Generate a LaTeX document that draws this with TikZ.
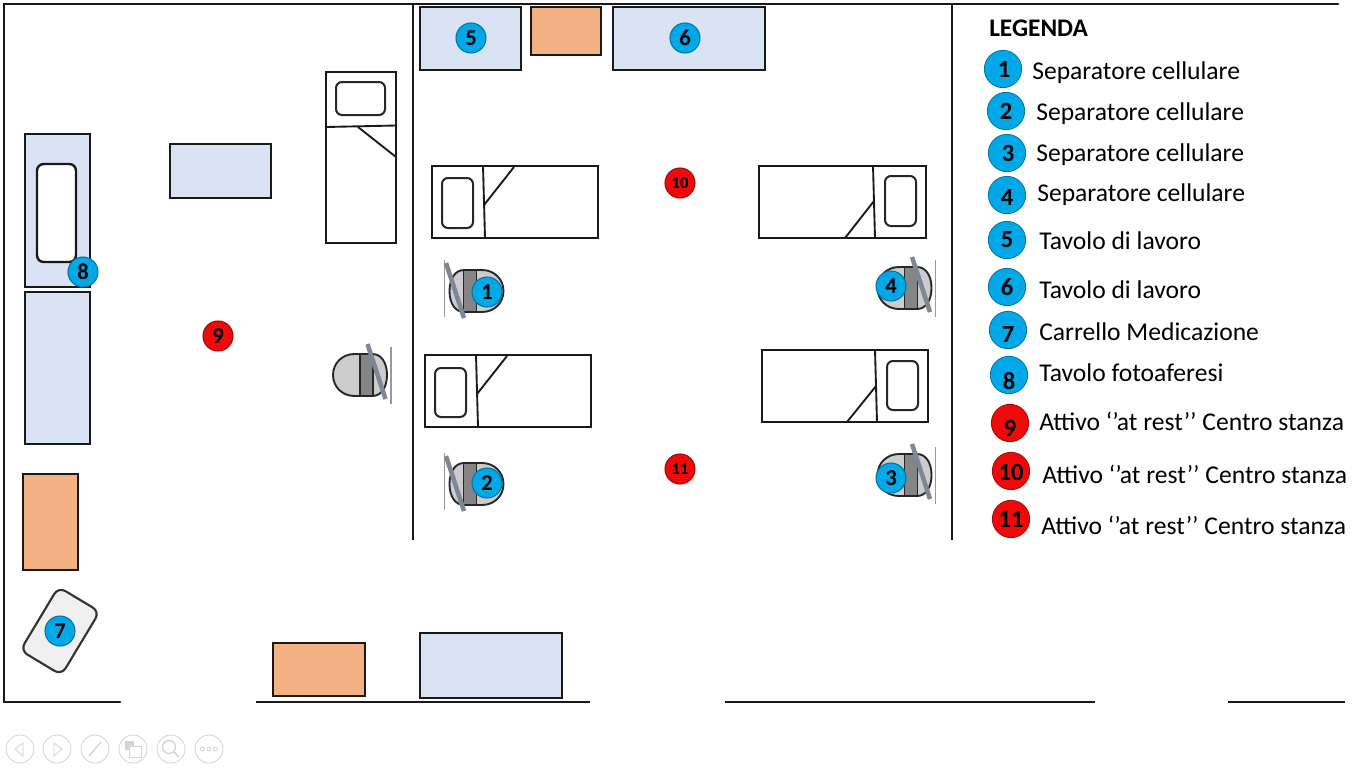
\documentclass[tikz,border=0pt]{standalone}
\usepackage{fontspec}
\setmainfont{Carlito}
\definecolor{tblue}{HTML}{DAE3F3}
\definecolor{torange}{HTML}{F4B183}
\definecolor{bblue}{HTML}{00A8E8}
\definecolor{bred}{HTML}{EE0A0A}
\definecolor{navgray}{HTML}{D4D4D4}
\definecolor{slashc}{HTML}{7F8797}
\tikzset{
  wall/.style={line width=2pt,black!90},
  furn/.style={draw=black!90,line width=1.8pt},
  bluebox/.style={furn,fill=tblue},
  orangebox/.style={furn,fill=torange},
  pillow/.style={draw=black!85,line width=1.5pt,rounded corners=4.5pt},
  badge/.style={circle,draw=#1!70!black,line width=.8pt,fill=#1,minimum size=22.5pt,inner sep=0pt,font=\fontsize{17}{17}\selectfont\bfseries},
  planblue/.style={badge=bblue},
  planred/.style={badge=bred},
  legbadge/.style={circle,draw=#1!70!black,line width=.6pt,fill=#1,minimum size=28pt,inner sep=0pt},
  legnum/.style={inner sep=0pt,font=\fontsize{18.5}{18.5}\selectfont\bfseries},
  legtext/.style={anchor=west,inner sep=0pt,font=\fontsize{19.2}{19.2}\selectfont},
  nav/.style={draw=navgray,line width=.6pt},
  chairR/.pic={
    \draw[draw=black!85,line width=1.4pt,fill=black!20] (-12,-21) .. controls (-24,-21) and (-33.5,-12) .. (-33.5,0) .. controls (-33.5,12) and (-24,21) .. (-12,21) -- (6,21) .. controls (15,21) and (20.5,12) .. (20.5,0) .. controls (20.5,-12) and (15,-21) .. (6,-21) -- cycle;
    \draw[draw=black!85,line width=1.4pt,fill=black!48] (-6.5,-21) rectangle (6.5,21);
    \draw[draw=black!40,line width=.8pt] (24.5,-28) -- (24.5,29);
    \draw[draw=slashc,line width=3.4pt] (1,-31) -- (19,24);
  },
  chairL/.pic={
    \draw[draw=black!85,line width=1.4pt,fill=black!20] (12,-21) .. controls (24,-21) and (33.5,-12) .. (33.5,0) .. controls (33.5,12) and (24,21) .. (12,21) -- (-6,21) .. controls (-15,21) and (-20.5,12) .. (-20.5,0) .. controls (-20.5,-12) and (-15,-21) .. (-6,-21) -- cycle;
    \draw[draw=black!85,line width=1.4pt,fill=black!48] (-6.5,-21) rectangle (6.5,21);
    \draw[draw=black!40,line width=.8pt] (-25.5,-31) -- (-25.5,26);
    \draw[draw=slashc,line width=3.4pt] (-24,-28) -- (-6,27);
  }
}
\begin{document}
\begin{tikzpicture}[x=0.75pt,y=-0.75pt]
\useasboundingbox (0,0) rectangle (1366,768);
\fill[white] (0,0) rectangle (1366,768);
% walls
\draw[wall,line cap=round,line join=miter] (1338,4) -- (4,4) -- (4,702) -- (120,702);
\draw[wall] (256,702) -- (590,702);
\draw[wall] (725,702) -- (1095,702);
\draw[wall] (1228,702) -- (1345,702);
\draw[wall,line width=1.5pt] (413,4) -- (413,540);
\draw[wall,line width=1.5pt] (952,4) -- (952,540);
% tables
\draw[bluebox] (420,7) rectangle (521,70);
\draw[orangebox] (531,7) rectangle (601,55);
\draw[bluebox] (613,7) rectangle (765,70);
\draw[bluebox] (25,134) rectangle (90,287);
\draw[furn,fill=white,rounded corners=5pt] (37,164) rectangle (76,262);
\draw[bluebox] (25,292) rectangle (90,444);
\draw[bluebox] (170,144) rectangle (271,198);
\draw[orangebox] (23,474) rectangle (78,570);
\draw[orangebox] (273,643) rectangle (365,696);
\draw[bluebox] (420,633) rectangle (562,698);
% cart
\draw[draw=black!80,line width=1.6pt,fill=black!6,rounded corners=6pt,rotate around={-31:(60,631)}] (36,594) rectangle (84,668);
% beds
\draw[furn] (326,72) rectangle (396,243);
\draw[pillow] (336,82) rectangle (385,115);
\draw[furn,line width=1.4pt] (326,127) -- (396,125.5);
\draw[furn,line width=1.4pt] (358,127) -- (396,157);
\draw[furn] (432,166) rectangle (598,238);
\draw[pillow] (442,178) rectangle (473,228);
\draw[furn,line width=1.4pt] (483,166) -- (485,238);
\draw[furn,line width=1.4pt] (484,205) -- (514,167);
\draw[furn] (425,355) rectangle (591,427);
\draw[pillow] (435,368) rectangle (466,417);
\draw[furn,line width=1.4pt] (476,355) -- (478,427);
\draw[furn,line width=1.4pt] (477,394) -- (507,356);
\draw[furn] (759,166) rectangle (926,238);
\draw[pillow] (885,176) rectangle (916,226);
\draw[furn,line width=1.4pt] (873,166) -- (875,238);
\draw[furn,line width=1.4pt] (874,201) -- (845,238);
\draw[furn] (762,350) rectangle (928,422);
\draw[pillow] (887,361) rectangle (918,410);
\draw[furn,line width=1.4pt] (875,350) -- (877,422);
\draw[furn,line width=1.4pt] (876,386) -- (847,422);
% chairs
\pic at (366.5,375) {chairR};
\pic at (911,288) {chairR};
\pic at (911,475) {chairR};
\pic at (470,291) {chairL};
\pic at (470,484) {chairL};
% plan badges
\node[planblue] (p1) at (487,292) {1};
\node[planblue] (p2) at (487,483) {2};
\node[planblue] (p3) at (891,478) {3};
\node[planblue] (p4) at (891,286) {4};
\node[planblue] (p5) at (471,38) {5};
\node[planblue] (p6) at (685,38) {6};
\node[planblue] (p7) at (60,631) {7};
\node[planblue] (p8) at (83,272) {8};
\node[planred] (p9) at (218,336) {9};
\node[planred,font=\fontsize{12.5}{12.5}\selectfont\bfseries] (p10) at (680,183) {10};
\node[planred,font=\fontsize{12.5}{12.5}\selectfont\bfseries] (p11) at (680,469) {11};
% legend
\node[inner sep=0pt,anchor=west,font=\fontsize{19}{19}\selectfont\bfseries] (legtitle) at (989,28) {LEGENDA};
\foreach \n/\bx/\by/\nx/\ny/\col/\tx/\ty/\txt in {
 1/1003/69/1004/69/bblue/1032/73/Separatore cellulare,
 2/1006/111/1006/111/bblue/1036/114/Separatore cellulare,
 3/1007/153/1008/153/bblue/1036/155/Separatore cellulare,
 4/1007/195/1007/197/bblue/1037/195/Separatore cellulare,
 5/1007/240/1007/240/bblue/1039/241/Tavolo di lavoro,
 6/1007/287/1007/287/bblue/1039/290/Tavolo di lavoro,
 7/1008/330/1008/334/bblue/1039/332/Carrello Medicazione,
 8/1009/375/1009/381/bblue/1039/373/Tavolo fotoaferesi,
 9/1010/423/1010/428/bred/1039/421/Attivo ‘’at rest’’ Centro stanza,
 10/1011/471/1011/472/bred/1042/474/Attivo ‘’at rest’’ Centro stanza,
 11/1011/519/1011/519/bred/1041/525/Attivo ‘’at rest’’ Centro stanza}{
  \node[legbadge=\col] (lb\n) at (\bx,\by) {};
  \node[legnum] (ln\n) at (\nx,\ny) {\n};
  \node[legtext] (lt\n) at (\tx,\ty) {\txt};
}
% slideshow controls
\foreach \i/\cx in {a/20,b/57,c/95,d/133,e/171,f/209}{
  \node[circle,nav,fill=white,minimum size=21pt,inner sep=0pt] (nav\i) at (\cx,749) {};
}
\draw[nav] (23,743) -- (15,749) -- (23,756) -- cycle;
\draw[nav] (54,743) -- (62,749) -- (54,756) -- cycle;
\draw[nav,line width=1pt] (89,756) -- (101,742);
\draw[nav,fill=navgray] (125,741) rectangle (133,749);
\draw[nav,fill=white] (129,746) rectangle (141,757);
\draw[nav,line width=1pt] (169,747) circle[radius=6.5];
\draw[nav,line width=1.2pt] (174,752) -- (179,757);
\draw[nav] (202.5,749) circle[radius=2];
\draw[nav] (209,749) circle[radius=2];
\draw[nav] (215.5,749) circle[radius=2];
\end{tikzpicture}
\end{document}
